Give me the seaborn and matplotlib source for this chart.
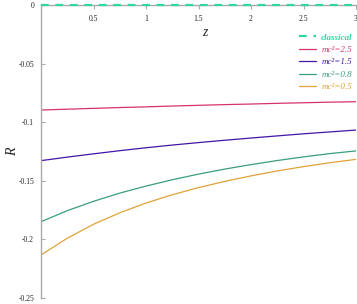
"""Ricci-type scalar R versus z for several mc^2 values."""

import matplotlib.pyplot as plt
import numpy as np
import pandas as pd
import seaborn as sns

# values
z = [0.0, 0.25, 0.5, 0.75, 1.0, 1.25, 1.5, 1.75, 2.0, 2.25, 2.5, 2.75, 3.0]
r_classical = [0.0] * 13
r_mc25 = [-0.0896, -0.0889, -0.0882, -0.0875, -0.0869, -0.0862, -0.0856,
          -0.0850, -0.0845, -0.0839, -0.0834, -0.0829, -0.0825]
r_mc15 = [-0.1328, -0.1298, -0.1270, -0.1243, -0.1218, -0.1195, -0.1174,
          -0.1154, -0.1135, -0.1117, -0.1099, -0.1083, -0.1067]
r_mc08 = [-0.1849, -0.1755, -0.1675, -0.1605, -0.1545, -0.1491, -0.1443,
          -0.1400, -0.1362, -0.1327, -0.1296, -0.1268, -0.1245]
r_mc05 = [-0.2133, -0.1990, -0.1871, -0.1773, -0.1690, -0.1619, -0.1558,
          -0.1505, -0.1458, -0.1416, -0.1379, -0.1346, -0.1317]

labels = ["classical", "mc²=2.5", "mc²=1.5", "mc²=0.8", "mc²=0.5"]
colors = ["#2fd8a0", "#d6336c", "#4216a8", "#3a9e76", "#e0a238"]
xticks = [0.5, 1, 1.5, 2, 2.5, 3]
yticks = [0, -0.05, -0.1, -0.15, -0.2, -0.25]
ytick_labels = ["0", "-0.05", "-0.1", "-0.15", "-0.2", "-0.25"]

sns.set_theme(style="white")
plt.rcParams["font.family"] = ["Liberation Serif", "DejaVu Serif"]

fig = plt.figure(figsize=(3.57, 3.04), dpi=100)
ax = fig.add_axes([41 / 357, 1 - 298 / 304, 315 / 357, 293 / 304])

series = [r_classical, r_mc25, r_mc15, r_mc08, r_mc05]
for vals, lab, col in zip(series, labels, colors):
    frame = pd.DataFrame({"z": z, "R": vals})
    if lab == "classical":
        sns.lineplot(data=frame, x="z", y="R", ax=ax, color=col, label=lab,
                     linewidth=1.6, dashes=False, clip_on=False, zorder=5)
        ax.lines[-1].set_dashes((3.5, 3))
    else:
        sns.lineplot(data=frame, x="z", y="R", ax=ax, color=col, label=lab,
                     linewidth=0.9)

ax.set_xlim(0, 3)
ax.set_ylim(-0.25, 0)

for side in ["top", "right"]:
    ax.spines[side].set_visible(False)
ax.spines["bottom"].set_position(("data", 0))
for side in ["left", "bottom"]:
    ax.spines[side].set_color("#aaaaaa")
    ax.spines[side].set_linewidth(1.0)

ax.set_xticks(xticks)
ax.set_xticklabels([f"{t:g}" for t in xticks])
ax.set_yticks(yticks)
ax.set_yticklabels(ytick_labels)
ax.tick_params(axis="x", direction="out", length=3, width=0.8, color="#aaaaaa",
               labelsize=5.5, labelcolor="#222222", pad=4, bottom=True)
ax.tick_params(axis="y", direction="in", length=3, width=0.8, color="#aaaaaa",
               labelsize=5.5, labelcolor="#222222", pad=5, left=True)

ax.set_xlabel("z", fontsize=10, fontstyle="italic", color="#222222")
ax.xaxis.set_label_coords((205 - 41) / 315, 0.93)
ax.set_ylabel("R", fontsize=10, fontstyle="italic", color="#222222")
ax.yaxis.set_label_coords(-0.07, 0.5)

leg = ax.legend(loc="upper right", bbox_to_anchor=(1.01, 0.925), frameon=False,
                fontsize=6.5, handlelength=1.9, handletextpad=0.6,
                labelspacing=0.45, borderpad=0.2)
for txt, col in zip(leg.get_texts(), colors):
    txt.set_color(col)
    txt.set_fontstyle("italic")
leg.get_texts()[0].set_fontweight("bold")

fig.savefig("out.png", dpi=100)
plt.close(fig)
